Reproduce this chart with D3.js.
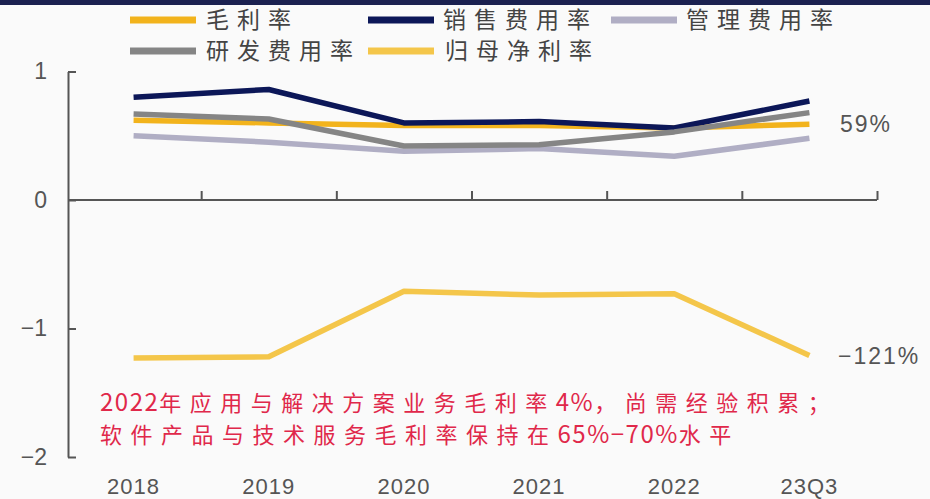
<!DOCTYPE html>
<html>
<head>
<meta charset="utf-8">
<script src="https://cdn.jsdelivr.net/npm/d3@7/dist/d3.min.js"></script>
<style>
  html, body { margin: 0; padding: 0; background: #fafafa; }
  svg { display: block; }
</style>
</head>
<body>
<svg id="chart" width="930" height="499"></svg>
<script>
// Margin and expense ratios by year (fractions; 1 = 100%)
const categories = ["2018", "2019", "2020", "2021", "2022", "23Q3"];
const grossMargin = [0.62, 0.60, 0.58, 0.58, 0.56, 0.59];   // 毛利率
const sellingExp  = [0.80, 0.86, 0.60, 0.61, 0.56, 0.77];   // 销售费用率
const adminExp    = [0.50, 0.45, 0.38, 0.40, 0.34, 0.48];   // 管理费用率
const rdExp       = [0.67, 0.63, 0.42, 0.43, 0.53, 0.68];   // 研发费用率
const netMargin   = [-1.23, -1.22, -0.71, -0.74, -0.73, -1.21]; // 归母净利率
const yTicks = [1, 0, -1, -2];

const seriesNames  = ["毛利率", "销售费用率", "管理费用率", "研发费用率", "归母净利率"];
const seriesValues = [grossMargin, sellingExp, adminExp, rdExp, netMargin];
const seriesColors = ["#f2b31c", "#0c1758", "#b0aec4", "#858585", "#f4c64a"];

const noteLines = [
  "2022年应用与解决方案业务毛利率4%，尚需经验积累；",
  "软件产品与技术服务毛利率保持在65%−70%水平"
];

const svg = d3.select("#chart");
const W = 930, H = 499;

svg.append("rect").attr("width", W).attr("height", H).attr("fill", "#fafafa");
// dark band along the top edge
svg.append("rect").attr("x", 0).attr("y", 0).attr("width", W).attr("height", 5).attr("fill", "#1b2150");

const x = d3.scaleBand().domain(categories).range([66, 877]).padding(0);
const y = d3.scaleLinear().domain([-2, 1]).range([457, 71.5]);
const cx = c => x(c) + x.bandwidth() / 2;

const axisColor = "#555";
const labelFont = "'Liberation Sans', Arial, sans-serif";
const cjkFont = "'Noto Sans CJK SC', sans-serif";

// y axis (ticks pointing into the plot)
const gy = svg.append("g")
  .attr("transform", "translate(68,0)")
  .call(d3.axisLeft(y).tickValues(yTicks).tickSizeInner(-8).tickSizeOuter(0).tickPadding(21)
    .tickFormat(d3.format("d")));
gy.select(".domain").attr("stroke", axisColor).attr("stroke-width", 2);
gy.selectAll(".tick line").attr("stroke", axisColor).attr("stroke-width", 2);
gy.selectAll(".tick text").attr("fill", "#555").attr("font-size", 23).attr("font-family", labelFont);

// x axis at zero, ticks between categories
const edge = d3.scaleLinear().domain([0, categories.length]).range(x.range());
const gx = svg.append("g")
  .attr("transform", `translate(0,${y(0)})`)
  .call(d3.axisTop(edge).tickValues(d3.range(1, categories.length + 1)).tickSize(9).tickSizeOuter(0).tickFormat(""));
gx.select(".domain").attr("stroke", axisColor).attr("stroke-width", 2)
  .attr("d", `M68,0H${x.range()[1]}`);
gx.selectAll(".tick line").attr("stroke", axisColor).attr("stroke-width", 2);

// category labels along the bottom
const gxl = svg.append("g")
  .call(d3.axisBottom(x).tickSize(0).tickPadding(0));
gxl.select(".domain").remove();
gxl.selectAll(".tick text")
  .attr("y", 494).attr("dy", null)
  .attr("fill", "#555").attr("font-size", 22).attr("font-family", labelFont)
  .attr("letter-spacing", 1);

// series lines
const line = d3.line().x((d, i) => cx(categories[i])).y(d => y(d));
seriesValues.forEach((vals, k) => {
  svg.append("path")
    .datum(vals)
    .attr("d", line)
    .attr("fill", "none")
    .attr("stroke", seriesColors[k])
    .attr("stroke-width", 5.5)
    .attr("stroke-linejoin", "round");
});

// end-point value labels
const last = categories.length - 1;
const pct = v => d3.format(".0%")(v);
[[grossMargin, 840], [netMargin, 838]].forEach(([vals, lx]) => {
  svg.append("text")
    .attr("x", lx).attr("y", y(vals[last]))
    .attr("dy", "0.35em")
    .attr("fill", "#555").attr("font-size", 23).attr("font-family", labelFont)
    .attr("letter-spacing", 2)
    .text(pct(vals[last]));
});

// mixed-script text: CJK runs get wider tracking than Latin runs
function spacedText(g, str, cjkSpacing, latinSpacing, latinSize) {
  const runs = str.match(/[\u3000-\u9fff\uff00-\uffef]+|[^\u3000-\u9fff\uff00-\uffef]+/g);
  runs.forEach(r => {
    const isCjk = /[\u3000-\u9fff\uff00-\uffef]/.test(r);
    const ts = g.append("tspan").attr("letter-spacing", isCjk ? cjkSpacing : latinSpacing).text(r);
    if (!isCjk && latinSize) ts.attr("font-size", latinSize);
  });
}

// legend
const legendPos = [
  { sx: 130, tx: 206, y: 20 },
  { sx: 368, tx: 443, y: 20 },
  { sx: 611, tx: 686, y: 20 },
  { sx: 130, tx: 206, y: 51 },
  { sx: 368, tx: 445, y: 51 }
];
seriesNames.forEach((name, k) => {
  const p = legendPos[k];
  svg.append("line")
    .attr("x1", p.sx).attr("x2", p.sx + 66).attr("y1", p.y).attr("y2", p.y)
    .attr("stroke", seriesColors[k]).attr("stroke-width", 7);
  const t = svg.append("text")
    .attr("x", p.tx).attr("y", p.y).attr("dy", "0.36em")
    .attr("fill", "#444").attr("font-size", 23).attr("font-family", cjkFont);
  spacedText(t, name, 8, 0);
});

// annotation
noteLines.forEach((s, i) => {
  const t = svg.append("text")
    .attr("x", 100).attr("y", 403 + i * 32).attr("dy", "0.36em")
    .attr("fill", "#e0284a").attr("font-size", 22).attr("font-family", cjkFont);
  spacedText(t, s, 8.5, 1.5, 24);
});
</script>
</body>
</html>
